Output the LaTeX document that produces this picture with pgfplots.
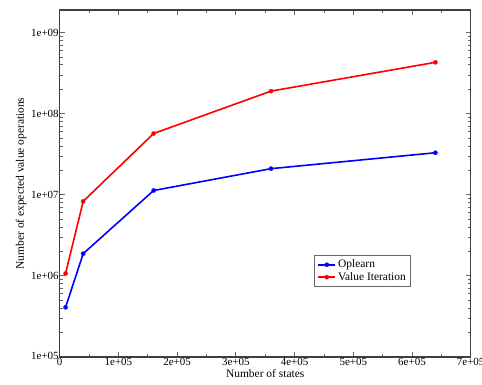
\documentclass[border=0pt]{standalone}
\usepackage{fontspec}
\setmainfont{Liberation Serif}
\usepackage{pgfplots}
\pgfplotsset{compat=1.18}
\begin{document}
\begin{tikzpicture}
\begin{axis}[
  name=ax,
  scale only axis,
  width=411bp, height=347bp,
  xmode=normal, ymode=log,
  xmin=0, xmax=7e5,
  ymin=1e5, ymax=1.9e9,
  xtick={0,1e5,2e5,3e5,4e5,5e5,6e5,7e5},
  xticklabels={0,1e+05,2e+05,3e+05,4e+05,5e+05,6e+05,7e+05},
  minor x tick num=1,
  ytick={1e5,1e6,1e7,1e8,1e9},
  yticklabels={\raisebox{2.5bp}{1e+05},1e+06,1e+07,1e+08,1e+09},
  scaled x ticks=false,
  tick align=inside,
  major tick length=5bp,
  minor tick length=3bp,
  axis line style={draw=black!75, line width=1.3bp},
  every tick/.style={black!60, line width=0.8bp},
  tick label style={font=\fontsize{11}{12}\selectfont},
  xticklabel style={inner sep=1bp, yshift=-0.5bp},
  yticklabel style={xshift=2.5bp},
  label style={font=\fontsize{11.5}{12}\selectfont},
  /pgf/number format/assume math mode=true,
  xlabel={Number of states},
  ylabel={Number of expected value operations},
  xlabel style={inner sep=0.5bp, yshift=-1.5bp},
  ylabel style={yshift=-2bp},
  legend style={at={(0.619,0.295)}, anchor=north west, draw=black!60, line width=0.8bp,
     font=\fontsize{11.5}{12.5}\selectfont, inner sep=3bp, row sep=-1bp},
  legend cell align=left,
  legend image post style={sharp plot},
]
\addplot[blue, line width=1.6bp, mark=*, mark size=2.1bp, mark options={line width=0.3bp}] coordinates {
  (1e4,4.1e5) (4e4,1.88e6) (1.6e5,1.13e7) (3.6e5,2.1e7) (6.4e5,3.3e7)};
\addlegendentry{Oplearn}
\addplot[red, line width=1.6bp, mark=*, mark size=2.1bp, mark options={line width=0.3bp}] coordinates {
  (1e4,1.07e6) (4e4,8.3e6) (1.6e5,5.7e7) (3.6e5,1.9e8) (6.4e5,4.3e8)};
\addlegendentry{Value Iteration}
\end{axis}
\pgfresetboundingbox
\path[use as bounding box] ([shift={(-59.7bp,-28bp)}]ax.south west) rectangle ([shift={(11.3bp,10bp)}]ax.north east);
\end{tikzpicture}
\end{document}
